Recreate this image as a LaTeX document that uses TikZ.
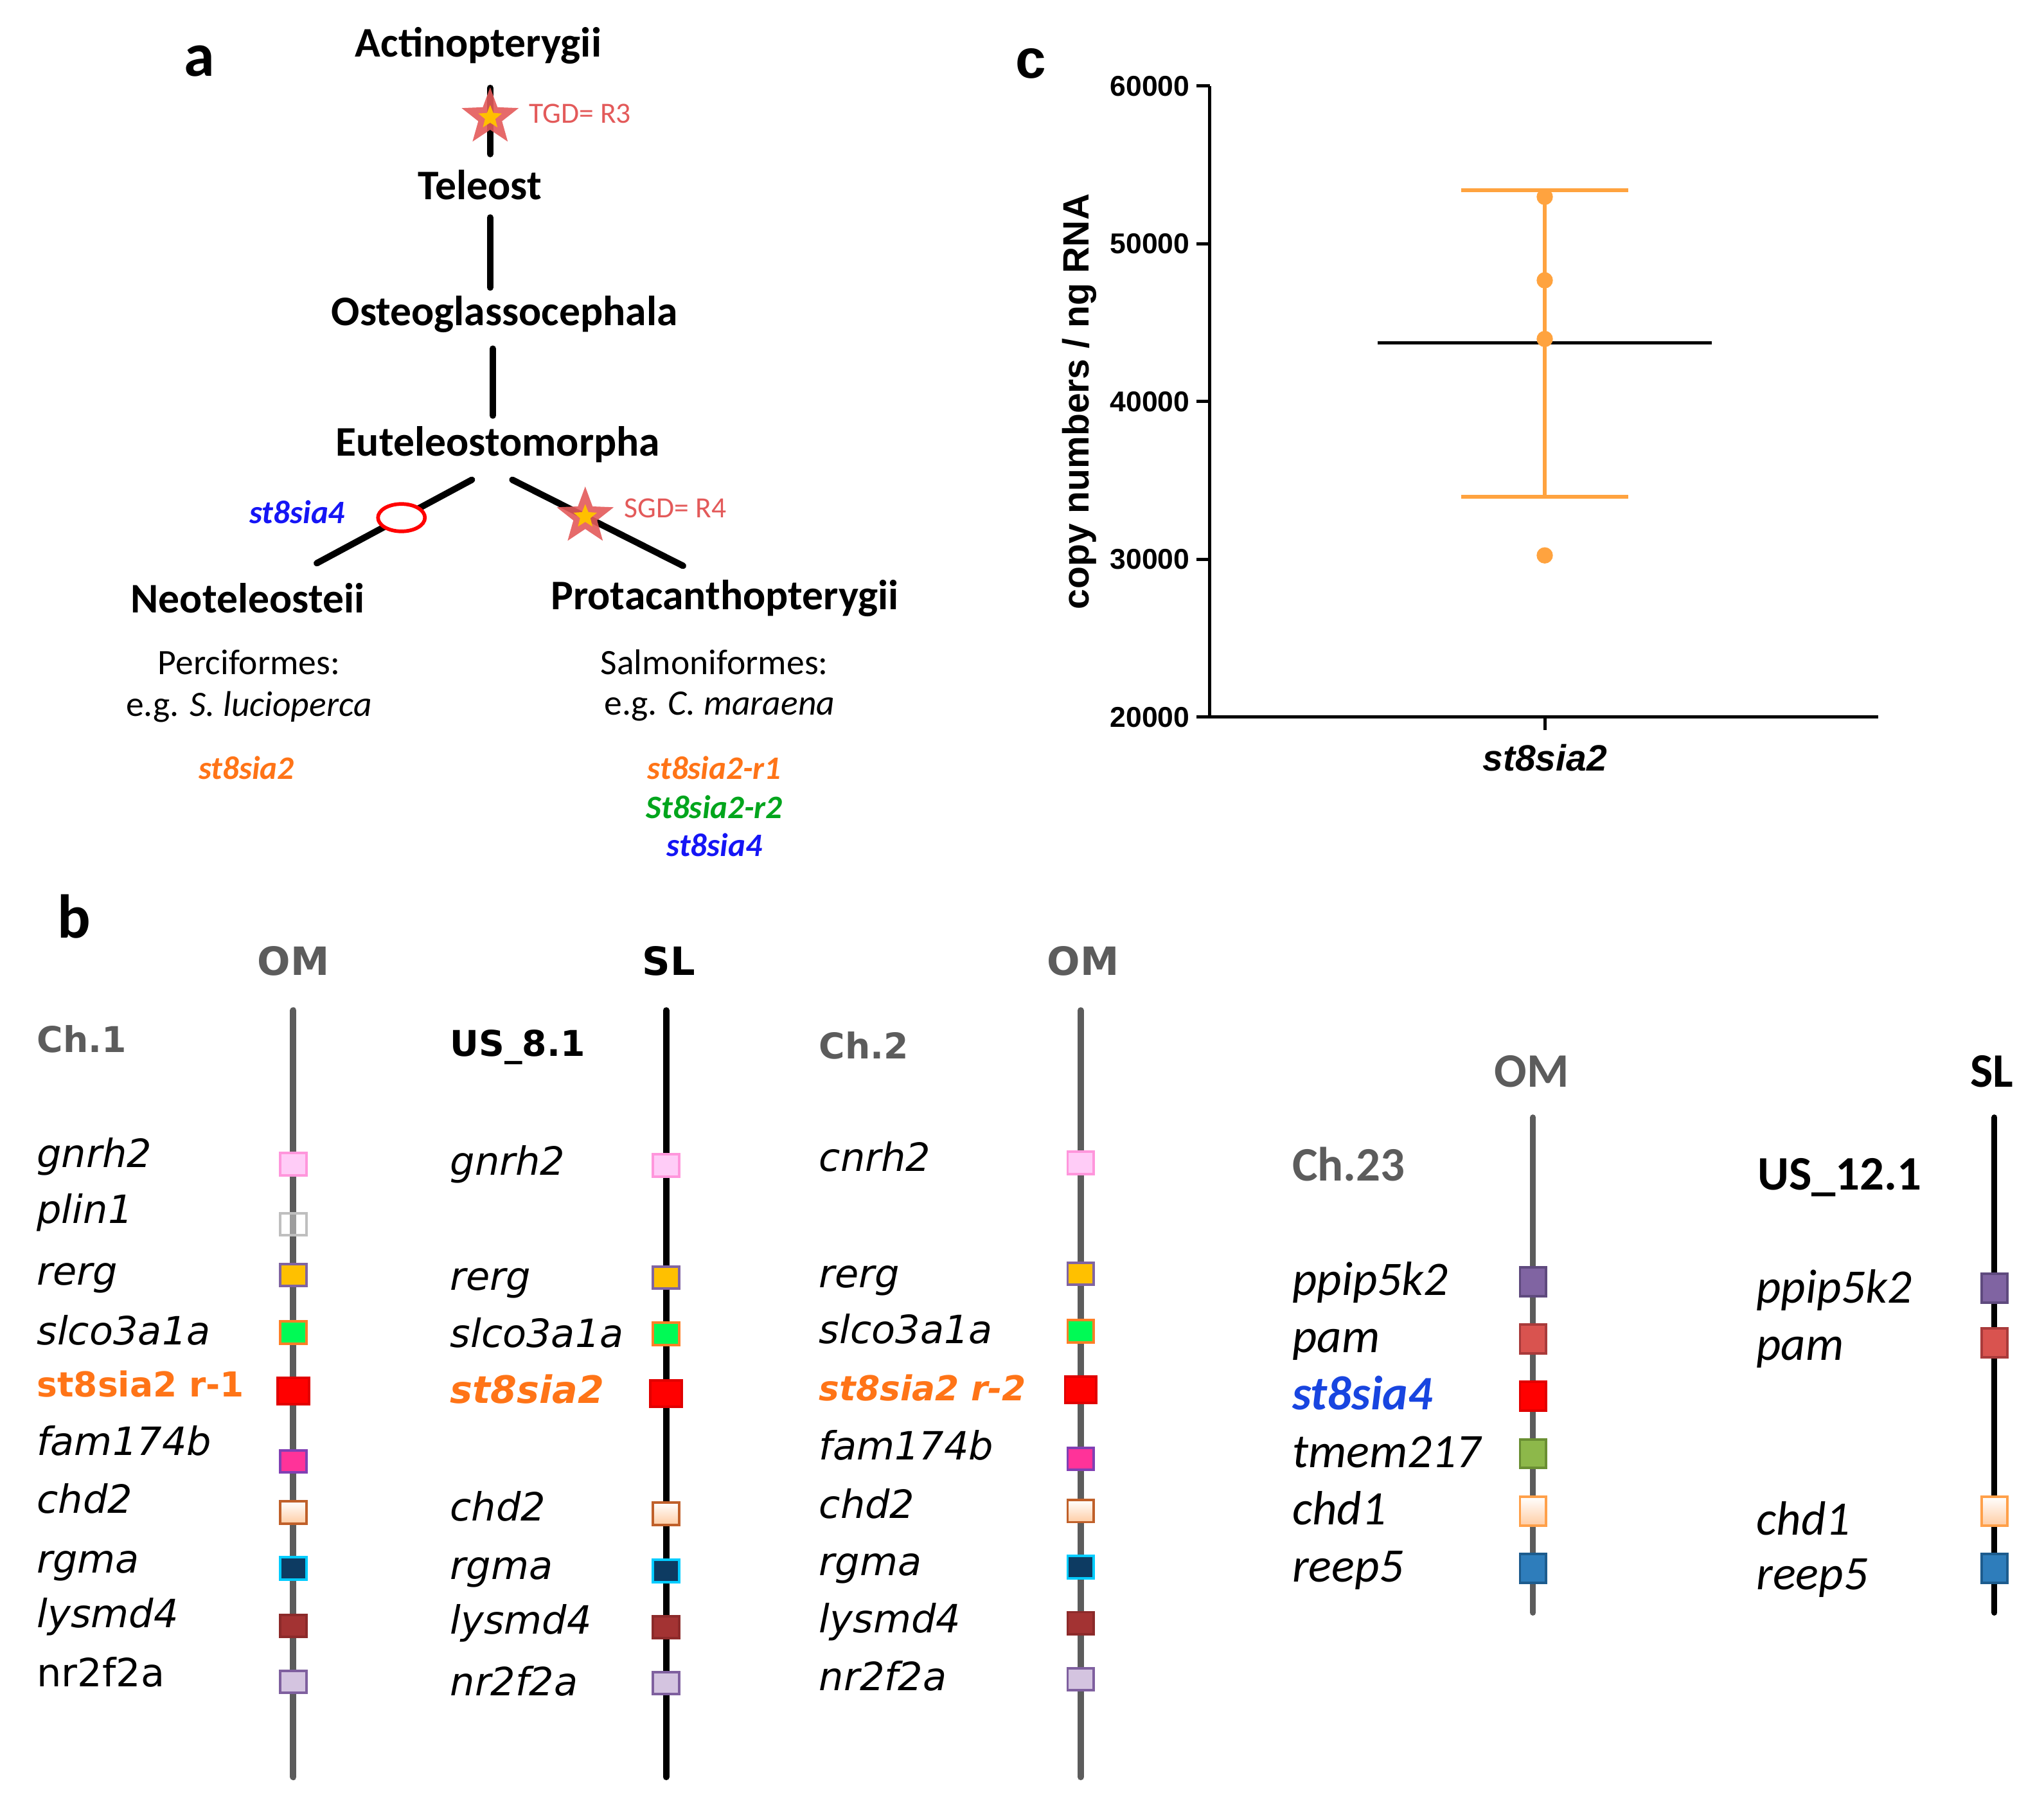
\documentclass[tikz,border=0pt]{standalone}
\usepackage{fontspec}
\setmainfont{Carlito}
\newfontfamily\verdana{DejaVu Sans}
\newfontfamily\arial{Liberation Sans}
\usetikzlibrary{shapes.geometric}

\definecolor{salmon}{HTML}{E35A5A}
\definecolor{starin}{HTML}{FFC000}
\definecolor{genorange}{HTML}{FF7417}
\definecolor{gengreen}{HTML}{00A51C}
\definecolor{genblue}{HTML}{1515F5}
\definecolor{chblue}{HTML}{1845E0}
\definecolor{chgray}{HTML}{5C5C5C}
\definecolor{plotorange}{HTML}{FFA33F}

\tikzset{
  panel/.style={font=\bfseries\fontsize{27}{30}\selectfont, inner sep=0pt},
  taxon/.style={font=\bfseries\fontsize{18.4}{20}\selectfont, inner sep=0pt},
  order/.style={font=\fontsize{15.6}{18}\selectfont, inner sep=0pt},
  treegene/.style={font=\bfseries\itshape\fontsize{14.3}{16}\selectfont, inner sep=0pt},
  dupl/.style={font=\fontsize{12.8}{14}\selectfont, text=salmon, inner sep=0pt},
  branch/.style={line width=2.8pt, line cap=round},
  dupstar/.style={star, star points=5, star point ratio=2.4, fill=salmon, fill opacity=.9, inner sep=0pt, minimum size=0.92cm},
  dupcore/.style={star, star points=5, star point ratio=2.3, fill=starin, inner sep=0pt, minimum size=0.38cm},
  loss/.style={ellipse, draw=red, fill=white, line width=1.6pt, minimum width=0.72cm, minimum height=0.42cm, inner sep=0pt},
  % panel c
  axisline/.style={line width=1.4pt},
  ticklab/.style={font=\arial\bfseries\fontsize{12.5}{14}\selectfont, anchor=east, inner sep=0pt},
  sdbar/.style={draw=plotorange, line width=1.6pt},
  dot/.style={circle, fill=plotorange, minimum size=0.25cm, inner sep=0pt},
  % panel b
  sphead/.style={font=\verdana\bfseries\fontsize{17}{19}\selectfont, inner sep=0pt},
  chname/.style={font=\verdana\bfseries\fontsize{15.5}{18}\selectfont, anchor=west, inner sep=0pt},
  gene/.style={font=\verdana\itshape\fontsize{17}{19}\selectfont, anchor=west, inner sep=0pt, text height=12pt, text depth=2.4pt},
  hitgene/.style={font=\verdana\bfseries\fontsize{15}{18}\selectfont, text=genorange, anchor=west, inner sep=0pt, text height=12pt, text depth=2.4pt},
  spheadc/.style={font=\bfseries\fontsize{21}{24}\selectfont, inner sep=0pt},
  chnamec/.style={font=\bfseries\fontsize{21}{24}\selectfont, anchor=west, inner sep=0pt},
  genec/.style={font=\itshape\fontsize{21}{24}\selectfont, anchor=west, inner sep=0pt, text height=12pt, text depth=2.4pt},
  chromOM/.style={draw=chgray, line width=2.8pt, line cap=round},
  chromSL/.style={draw=black, line width=2.8pt, line cap=round},
  gbox/.style={draw, line width=1.1pt, minimum width=0.4cm, minimum height=0.34cm, inner sep=0pt},
  cbox/.style={draw, line width=1.1pt, minimum width=0.4cm, minimum height=0.44cm, inner sep=0pt},
  gnrh/.style={fill={rgb,255:red,255;green,204;blue,247}, draw={rgb,255:red,255;green,150;blue,220}},
  plin/.style={fill=white, fill opacity=.4, draw=black!25},
  rerg/.style={fill={rgb,255:red,255;green,192;blue,0}, draw={rgb,255:red,128;green,100;blue,162}},
  slco/.style={fill={rgb,255:red,0;green,250;blue,85}, draw={rgb,255:red,255;green,127;blue,39}},
  sia/.style={fill=red, draw={rgb,255:red,225;green,0;blue,0}, minimum width=0.48cm, minimum height=0.4cm},
  fam/.style={fill={rgb,255:red,255;green,51;blue,153}, draw={rgb,255:red,128;green,64;blue,180}},
  chd/.style={top color=white, bottom color={rgb,255:red,255;green,205;blue,165}, draw={rgb,255:red,192;green,96;blue,42}},
  rgma/.style={fill={rgb,255:red,13;green,59;blue,98}, draw={rgb,255:red,0;green,204;blue,255}},
  lysm/.style={fill={rgb,255:red,163;green,51;blue,51}, draw={rgb,255:red,140;green,42;blue,42}},
  nr2f/.style={fill={rgb,255:red,212;green,196;blue,224}, draw={rgb,255:red,127;green,96;blue,159}},
  ppip/.style={fill={rgb,255:red,128;green,100;blue,162}, draw={rgb,255:red,95;green,74;blue,126}},
  pam/.style={fill={rgb,255:red,217;green,83;blue,79}, draw={rgb,255:red,169;green,59;blue,59}},
  tmem/.style={fill={rgb,255:red,141;green,184;blue,74}, draw={rgb,255:red,106;green,143;blue,51}},
  chda/.style={top color=white, bottom color={rgb,255:red,255;green,205;blue,165}, draw={rgb,255:red,255;green,160;blue,74}},
  reep/.style={fill={rgb,255:red,46;green,125;blue,187}, draw={rgb,255:red,29;green,92;blue,142}},
}

\begin{document}
\begin{tikzpicture}[x=0.02cm, y=-0.02cm]
\useasboundingbox (0,0) rectangle (1568,1382);

% ---- a: phylogeny
\node[panel] (la) at (153,47) {a};
\node[taxon] (act) at (367,35) {Actinopterygii};
\node[taxon] (tel) at (368,142) {Teleost};
\node[taxon] (ost) at (387,241) {Osteoglassocephala};
\node[taxon] (eut) at (382,341) {Euteleostomorpha};
\node[taxon] (neo) at (190,459) {Neoteleosteii};
\node[taxon] (pro) at (556,459) {Protacanthopterygii};
\coordinate (tgdc) at (376,90);
\coordinate (eutL) at (362,368);
\coordinate (eutR) at (393,368);
\coordinate (neoE) at (243,432);
\coordinate (proE) at (524,434);
\draw[branch, shorten <=0.36cm, shorten >=0.24cm] (act.south -| tgdc) -- (tel.north -| tgdc);
\draw[branch, shorten <=0.26cm, shorten >=0.12cm] (tel.south -| tgdc) -- (ost.north -| tgdc);
\draw[branch, shorten <=0.24cm, shorten >=0.16cm] (ost.south -| 378,0) -- (eut.north -| 378,0);
\node[dupstar] (tgd) at (tgdc) {};
\node[dupcore] (tgdin) at (tgdc) {};
\node[dupl] (tgdlab) at (445,87) {TGD= R3};
\draw[branch] (eutL) -- (neoE) node[loss, pos=.454] (lossm) {};
\draw[branch] (eutR) -- (proE) node[dupstar, pos=.427] (sgd) {} node[dupcore, pos=.427] (sgdin) {};
\node[dupl] (sgdlab) at (518,390) {SGD= R4};
\node[treegene, text=genblue] (lostgene) at (228,393) {st8sia4};

\node[order] (perc) at (191,508) {Perciformes:};
\node[order] (perceg) at (191,542) {e.g. \textit{S. lucioperca}};
\node[order] (salm) at (548,508) {Salmoniformes:};
\node[order] (salmeg) at (552,542) {e.g. \textit{C. maraena}};
\node[treegene, text=genorange] (pgene) at (189,589) {st8sia2};
\node[treegene, text=genorange] (sgene1) at (548,589) {st8sia2-r1};
\node[treegene, text=gengreen] (sgene2) at (548,619) {St8sia2-r2};
\node[treegene, text=genblue] (sgene3) at (548,648) {st8sia4};

% ---- c: copy numbers
\node[panel, font=\arial\bfseries\fontsize{24}{28}\selectfont] (lc) at (791,49) {c};
\draw[axisline] (928,66) -- (928,550) -- (1441,550);
\draw[axisline] (918,66) -- (928,66);
\draw[axisline] (918,187) -- (928,187);
\draw[axisline] (918,308) -- (928,308);
\draw[axisline] (918,429) -- (928,429);
\draw[axisline] (918,550) -- (928,550);
\draw[axisline] (1185,550) -- (1185,560);
\node[ticklab] (t60) at (913,66) {60000};
\node[ticklab] (t50) at (913,187) {50000};
\node[ticklab] (t40) at (913,308) {40000};
\node[ticklab] (t30) at (913,429) {30000};
\node[ticklab] (t20) at (913,550) {20000};
\node[rotate=90, font=\arial\bfseries\fontsize{16}{18}\selectfont, inner sep=0pt] (ylab) at (828,308) {copy numbers / ng RNA};
\node[font=\arial\bfseries\itshape\fontsize{16}{18}\selectfont, inner sep=0pt] (xlab) at (1185,581) {st8sia2};
\draw[line width=1.2pt] (1057,263) -- (1313,263);
\draw[sdbar] (1121,146) -- (1249,146);
\draw[sdbar] (1185,146) -- (1185,381);
\draw[sdbar] (1121,381) -- (1249,381);
\node[dot] (p1) at (1185,151) {};
\node[dot] (p2) at (1185,215) {};
\node[dot] (p3) at (1185,260) {};
\node[dot] (p4) at (1185,426) {};

% ---- b: synteny
\node[panel] (lb) at (57,703) {b};
\node[sphead, text=chgray] (om1) at (225,737) {OM};
\node[sphead] (sl1) at (513,737) {SL};
\node[sphead, text=chgray] (om2) at (831,737) {OM};
\node[chname, text=chgray] (ch1) at (28,797) {Ch.1};
\node[chname] (us8) at (345,803) {US\_8.1};
\node[chname, text=chgray] (ch2) at (628,802) {Ch.2};
\draw[chromOM] (225,775) -- (225,1363);
\draw[chromSL] (511,775) -- (511,1363);
\draw[chromOM] (829,775) -- (829,1363);

% Ch.1
\node[gene] (a1) at (28,887) {gnrh2};
\node[gene] (a2) at (28,930) {plin1};
\node[gene] (a3) at (28,977) {rerg};
\node[gene] (a4) at (28,1023) {slco3a1a};
\node[hitgene] (a5) at (28,1063) {st8sia2 r-1};
\node[gene] (a6) at (28,1108) {fam174b};
\node[gene] (a7) at (28,1152) {chd2};
\node[gene] (a8) at (28,1198) {rgma};
\node[gene] (a9) at (28,1240) {lysmd4};
\node[gene, font=\verdana\fontsize{17}{19}\selectfont] (a10) at (28,1285) {nr2f2a};
\node[gbox, gnrh] (ab1) at (225,893) {};
\node[gbox, plin] (ab2) at (225,939) {};
\node[gbox, rerg] (ab3) at (225,978) {};
\node[gbox, slco] (ab4) at (225,1022) {};
\node[gbox, sia] (ab5) at (225,1067) {};
\node[gbox, fam] (ab6) at (225,1121) {};
\node[gbox, chd] (ab7) at (225,1160) {};
\node[gbox, rgma] (ab8) at (225,1203) {};
\node[gbox, lysm] (ab9) at (225,1247) {};
\node[gbox, nr2f] (ab10) at (225,1290) {};

% US_8.1
\node[gene] (b1) at (345,893) {gnrh2};
\node[gene] (b3) at (345,981) {rerg};
\node[gene] (b4) at (345,1025) {slco3a1a};
\node[hitgene, font=\verdana\bfseries\itshape\fontsize{16.5}{19}\selectfont] (b5) at (345,1068) {st8sia2};
\node[gene] (b7) at (345,1158) {chd2};
\node[gene] (b8) at (345,1203) {rgma};
\node[gene] (b9) at (345,1245) {lysmd4};
\node[gene] (b10) at (345,1292) {nr2f2a};
\node[gbox, gnrh] (bb1) at (511,894) {};
\node[gbox, rerg] (bb3) at (511,980) {};
\node[gbox, slco] (bb4) at (511,1023) {};
\node[gbox, sia] (bb5) at (511,1069) {};
\node[gbox, chd] (bb7) at (511,1161) {};
\node[gbox, rgma] (bb8) at (511,1205) {};
\node[gbox, lysm] (bb9) at (511,1248) {};
\node[gbox, nr2f] (bb10) at (511,1291) {};

% Ch.2
\node[gene] (c1) at (628,890) {cnrh2};
\node[gene] (c3) at (628,979) {rerg};
\node[gene] (c4) at (628,1022) {slco3a1a};
\node[hitgene, font=\verdana\bfseries\itshape\fontsize{15}{18}\selectfont] (c5) at (628,1066) {st8sia2 r-2};
\node[gene] (c6) at (628,1111) {fam174b};
\node[gene] (c7) at (628,1156) {chd2};
\node[gene] (c8) at (628,1200) {rgma};
\node[gene] (c9) at (628,1244) {lysmd4};
\node[gene] (c10) at (628,1288) {nr2f2a};
\node[gbox, gnrh] (cb1) at (829,892) {};
\node[gbox, rerg] (cb3) at (829,977) {};
\node[gbox, slco] (cb4) at (829,1021) {};
\node[gbox, sia] (cb5) at (829,1066) {};
\node[gbox, fam] (cb6) at (829,1119) {};
\node[gbox, chd] (cb7) at (829,1159) {};
\node[gbox, rgma] (cb8) at (829,1202) {};
\node[gbox, lysm] (cb9) at (829,1245) {};
\node[gbox, nr2f] (cb10) at (829,1288) {};

% Ch.23 / US_12.1
\node[spheadc, text=chgray] (om3) at (1175,822) {OM};
\node[spheadc] (sl2) at (1528,822) {SL};
\node[chnamec, text=chgray] (ch23) at (991,893) {Ch.23};
\node[chnamec] (us12) at (1348,903) {US\_12.1};
\draw[chromOM, line width=2.5pt] (1176,857) -- (1176,1237);
\draw[chromSL, line width=2.5pt] (1530,857) -- (1530,1237);
\node[genec] (d1) at (991,985) {ppip5k2};
\node[genec] (d2) at (991,1029) {pam};
\node[genec, font=\bfseries\itshape\fontsize{21}{24}\selectfont, text=chblue] (d3) at (991,1073) {st8sia4};
\node[genec] (d4) at (991,1117) {tmem217};
\node[genec] (d5) at (991,1161) {chd1};
\node[genec] (d6) at (991,1205) {reep5};
\node[cbox, ppip] (db1) at (1176,983) {};
\node[cbox, pam] (db2) at (1176,1027) {};
\node[cbox, sia, minimum width=0.4cm, minimum height=0.44cm] (db3) at (1176,1071) {};
\node[cbox, tmem] (db4) at (1176,1115) {};
\node[cbox, chda] (db5) at (1176,1159) {};
\node[cbox, reep] (db6) at (1176,1203) {};
\node[genec] (e1) at (1347,991) {ppip5k2};
\node[genec] (e2) at (1347,1035) {pam};
\node[genec] (e5) at (1347,1169) {chd1};
\node[genec] (e6) at (1347,1211) {reep5};
\node[cbox, ppip] (eb1) at (1530,988) {};
\node[cbox, pam] (eb2) at (1530,1030) {};
\node[cbox, chda] (eb5) at (1530,1159) {};
\node[cbox, reep] (eb6) at (1530,1203) {};
\end{tikzpicture}
\end{document}
